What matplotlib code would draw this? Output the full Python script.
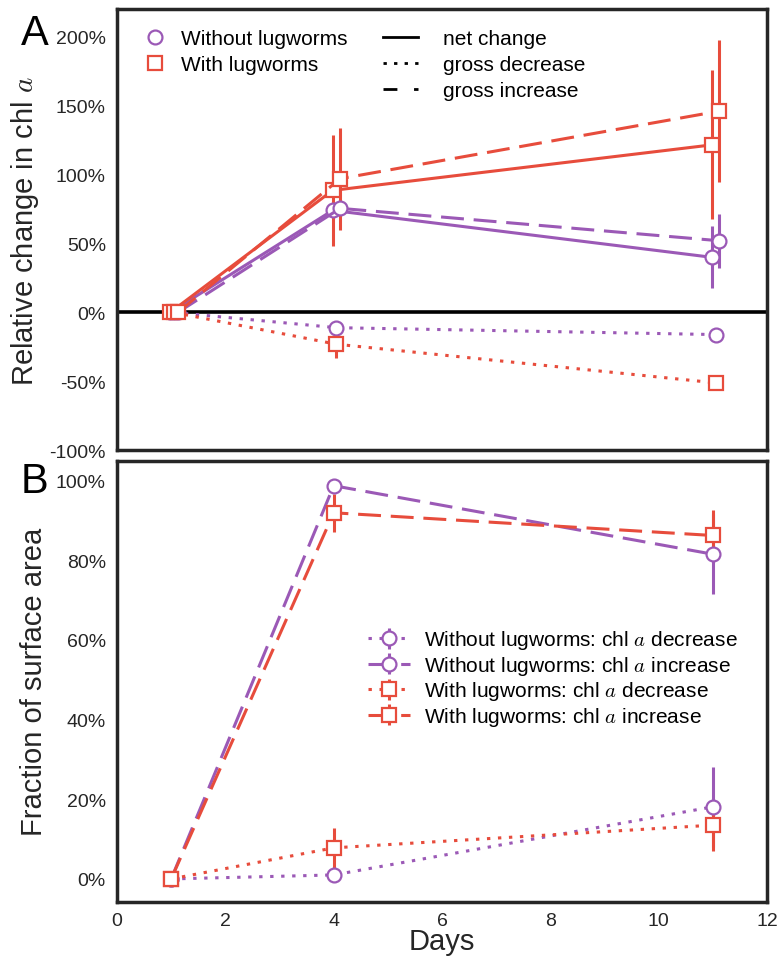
import numpy as np
import matplotlib
matplotlib.use("Agg")
from matplotlib import pyplot as plt
from matplotlib.lines import Line2D
from matplotlib.ticker import FuncFormatter

plt.rcParams['font.family'] = ['Liberation Sans', 'DejaVu Sans']
plt.rcParams['mathtext.fontset'] = 'cm'

purple = '#9b59b6'
red = '#e74c3c'
dark = '#262626'

days = np.array([1, 4, 11])

# panel A: relative change in chl a
net_without = [0.0, 0.74, 0.40]
net_without_err = [0.0, 0.03, 0.225]
inc_without = [0.0, 0.755, 0.52]
inc_without_err = [0.0, 0.03, 0.195]
dec_without = [0.0, -0.11, -0.16]
dec_without_err = [0.0, 0.02, 0.02]

net_with = [0.0, 0.885, 1.215]
net_with_err = [0.0, 0.40, 0.54]
inc_with = [0.0, 0.97, 1.46]
inc_with_err = [0.0, 0.37, 0.515]
dec_with = [0.0, -0.23, -0.51]
dec_with_err = [0.0, 0.10, 0.02]

# panel B: fraction of surface area
frac_dec_without = [0.0, 0.01, 0.181]
frac_dec_without_err = [0.0, 0.01, 0.10]
frac_inc_without = [0.0, 0.987, 0.815]
frac_inc_without_err = [0.0, 0.01, 0.10]
frac_dec_with = [0.0, 0.078, 0.135]
frac_dec_with_err = [0.0, 0.05, 0.064]
frac_inc_with = [0.0, 0.919, 0.862]
frac_inc_with_err = [0.0, 0.048, 0.063]

lw = 2.2
dashed = (7.5, 3.2)
dotted = (1.1, 2.5)

fig, (axA, axB) = plt.subplots(2, 1, sharex=True, figsize=(7.78, 9.62), dpi=100)
fig.subplots_adjust(left=0.1504, right=0.986, top=0.9896, bottom=0.0613, hspace=0.023)

def pct(v, pos):
    return "%d%%" % int(round(v * 100))

def series(ax, x, y, err, color, marker, dashes=None):
    c = ax.errorbar(x, y, yerr=err, color=color, lw=lw, elinewidth=lw, capsize=0,
                    marker=marker, ms=10, mfc='white', mec=color, mew=1.6)
    if dashes is not None:
        c.lines[0].set_dashes(dashes)
    return c

# panel A
axA.axhline(0, color='black', lw=2.6, zorder=1)
series(axA, days - 0.02, net_without, net_without_err, purple, 'o')
series(axA, days + 0.05, dec_without, dec_without_err, purple, 'o', dotted)
series(axA, days + 0.12, inc_without, inc_without_err, purple, 'o', dashed)
series(axA, days - 0.02, net_with, net_with_err, red, 's')
series(axA, days + 0.05, dec_with, dec_with_err, red, 's', dotted)
series(axA, days + 0.12, inc_with, inc_with_err, red, 's', dashed)

axA.set_ylim(-1.0, 2.2)
axA.set_yticks(np.arange(-1.0, 2.01, 0.5))
axA.yaxis.set_major_formatter(FuncFormatter(pct))
axA.set_ylabel(r'Relative change in chl $a$', fontsize=21, color=dark, labelpad=6)

h1 = [Line2D([], [], ls='none', marker='o', ms=10, mfc='white', mec=purple, mew=1.6),
      Line2D([], [], ls='none', marker='s', ms=10, mfc='white', mec=red, mew=1.6)]
leg1 = axA.legend(h1, ['Without lugworms', 'With lugworms'], loc='upper left',
                  bbox_to_anchor=(0.043, 0.955), frameon=False, fontsize=15,
                  handlelength=1.0, handletextpad=0.75, borderpad=0, borderaxespad=0,
                  labelspacing=0.35)
axA.add_artist(leg1)
h2 = [Line2D([], [], color='black', lw=2),
      Line2D([], [], color='black', lw=2, dashes=(1.2, 2.6)),
      Line2D([], [], color='black', lw=2, dashes=(5, 6))]
axA.legend(h2, ['net change', 'gross decrease', 'gross increase'], loc='upper left',
           bbox_to_anchor=(0.409, 0.955), frameon=False, fontsize=15,
           handlelength=1.7, handletextpad=1.2, borderpad=0, borderaxespad=0,
           labelspacing=0.35)

# panel B
b1 = series(axB, days, frac_dec_without, frac_dec_without_err, purple, 'o', dotted)
b2 = series(axB, days, frac_inc_without, frac_inc_without_err, purple, 'o', dashed)
b3 = series(axB, days, frac_dec_with, frac_dec_with_err, red, 's', dotted)
b4 = series(axB, days, frac_inc_with, frac_inc_with_err, red, 's', dashed)

axB.set_ylim(-0.058, 1.05)
axB.set_yticks(np.arange(0, 1.01, 0.2))
axB.yaxis.set_major_formatter(FuncFormatter(pct))
axB.set_ylabel('Fraction of surface area', fontsize=21, color=dark, labelpad=6)
axB.set_xlim(0, 12)
axB.set_xticks(np.arange(0, 13, 2))
axB.set_xlabel('Days', fontsize=21, color=dark, labelpad=-1)

axB.legend([b1, b2, b3, b4],
           [r'Without lugworms: chl $a$ decrease', r'Without lugworms: chl $a$ increase',
            r'With lugworms: chl $a$ decrease', r'With lugworms: chl $a$ increase'],
           loc='center left', bbox_to_anchor=(0.386, 0.507), frameon=False, fontsize=15,
           handlelength=2.0, handletextpad=0.7, borderpad=0, borderaxespad=0,
           labelspacing=0.12)

for ax in (axA, axB):
    for s in ax.spines.values():
        s.set_linewidth(2.5)
        s.set_color(dark)
    ax.tick_params(length=0, labelsize=14, colors=dark, pad=8)
axB.tick_params(axis='x', pad=7)
axA.tick_params(axis='x', labelbottom=False)

fig.text(0.027, 0.985, 'A', fontsize=30, va='top', ha='left', color='black')
fig.text(0.027, 0.52, 'B', fontsize=30, va='top', ha='left', color='black')

fig.savefig('out.png', dpi=100)
